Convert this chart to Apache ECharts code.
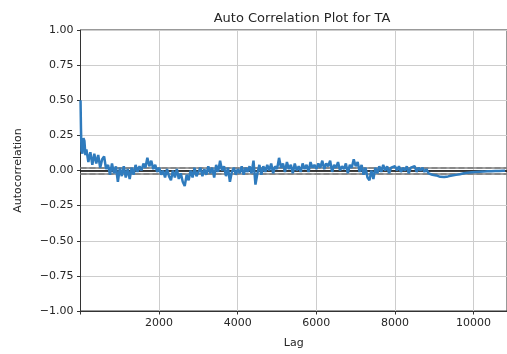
<!DOCTYPE html>
<html>
<head>
<meta charset="utf-8">
<script src="https://cdn.jsdelivr.net/npm/echarts@6/dist/echarts.min.js"></script>
<style>
  html, body { margin: 0; padding: 0; background: #fff; }
  #chart { width: 507px; height: 354px; }
</style>
</head>
<body>
<div id="chart"></div>
<script>
// Autocorrelation of the TA series.
// The first lags are listed individually, the rest every 50 lags from lag 251.
const earlyLags = [1, 12, 25, 50, 75, 100, 125, 150, 175, 200, 225];
const earlyAcf  = [0.50, 0.30, 0.14, 0.12, 0.23, 0.21, 0.11, 0.15, 0.14, 0.06, 0.10];

const firstLag = 251;
const lagStep = 50;
const acf = [
  0.13, 0.04, 0.12, 0.05, 0.11, 0.02, 0.08, 0.10, 0.01, 0.04, -0.03, 0.05, -0.02, 0.03, -0.08, 0.02,
  -0.04, 0.03, -0.05, 0.01, -0.06, 0.02, -0.03, 0.04, -0.01, 0.03, 0.00, 0.05, 0.02, 0.09, 0.03, 0.07, 0.01, 0.04, -0.01, 0.02,
  -0.03, 0.00, -0.05, 0.01, -0.04, -0.07, 0.00, -0.05, 0.01, -0.06, -0.02, -0.08, -0.11, -0.03, -0.07, 0.00, -0.05, 0.02, -0.04, -0.01,
  0.02, -0.04, 0.01, -0.03, 0.03, -0.02, 0.02, -0.05, 0.04, -0.01, 0.07, 0.00, 0.03, -0.04, 0.02, -0.08, -0.01, 0.02, -0.03, 0.01,
  -0.02, 0.03, -0.03, 0.02, -0.01, 0.03, -0.02, 0.07, -0.10, -0.02, 0.04, -0.03, 0.03, -0.01, 0.04, 0.00, 0.05, -0.02, 0.03, 0.01,
  0.09, 0.02, 0.05, -0.01, 0.06, 0.01, 0.04, -0.02, 0.05, 0.00, 0.03, -0.01, 0.05, 0.01, 0.04, -0.01, 0.06, 0.02, 0.04, 0.01,
  0.05, 0.02, 0.07, 0.01, 0.05, 0.03, 0.07, -0.01, 0.04, 0.02, 0.06, 0.00, 0.03, 0.01, 0.05, -0.02, 0.04, 0.02, 0.08, 0.03,
  0.06, -0.01, 0.04, -0.03, 0.02, -0.05, -0.07, 0.00, -0.06, 0.02, -0.02, 0.03, -0.01, 0.04, 0.00, 0.03, -0.02, 0.02, 0.01, 0.03,
  0.00, 0.03, -0.01, 0.02, 0.00, 0.03, -0.02, 0.02, 0.01, 0.03, -0.01, 0.02, 0.00, 0.02, -0.01, 0.01, -0.02, -0.01, -0.03, -0.03,
  -0.035, -0.04, -0.045, -0.048, -0.046, -0.044, -0.042, -0.038, -0.036, -0.033, -0.031, -0.028, -0.026, -0.023, -0.020, -0.018, -0.016, -0.014, -0.013, -0.012,
  -0.011, -0.010, -0.009, -0.008, -0.008, -0.007, -0.006, -0.006, -0.005, -0.005, -0.004, -0.004, -0.003, -0.003, -0.002, -0.002
];

// Confidence bands: 99% (dashed) and 95% (solid) around zero
const band99 = 0.0249;
const band95 = 0.0189;

const xTicks = [2000, 4000, 6000, 8000, 10000];
const xMax = 10850;

const points = earlyLags.map((lag, i) => [lag, earlyAcf[i]])
  .concat(acf.map((v, i) => [firstLag + i * lagStep, v]));

const chart = echarts.init(document.getElementById('chart'), null, { renderer: 'canvas' });
const font = 'DejaVu Sans';
const ink = '#262626';

chart.setOption({
  animation: false,
  backgroundColor: '#ffffff',
  title: {
    text: 'Auto Correlation Plot for TA',
    left: 297, top: 7, textAlign: 'center',
    textStyle: { fontFamily: font, fontSize: 13, fontWeight: 'normal', color: ink }
  },
  grid: {
    left: 80.5, top: 30, right: -6.5, bottom: 41,
    show: true, borderColor: '#333', borderWidth: 1, backgroundColor: 'transparent'
  },
  xAxis: {
    type: 'value', min: 0, max: xMax, interval: 2000,
    name: 'Lag', nameLocation: 'middle', nameGap: 27,
    nameTextStyle: { fontFamily: font, fontSize: 11, color: ink },
    axisLine: { show: true, onZero: false, lineStyle: { color: '#333', width: 1 } },
    axisTick: { show: true, length: 3.5, lineStyle: { color: '#333' } },
    axisLabel: {
      fontFamily: font, fontSize: 11, color: ink, margin: 7, showMaxLabel: false,
      formatter: v => (xTicks.indexOf(v) >= 0 ? String(v) : '')
    },
    splitLine: { show: true, lineStyle: { color: '#cdcdcd', width: 1 } }
  },
  yAxis: {
    type: 'value', min: -1, max: 1, interval: 0.25,
    name: 'Autocorrelation', nameLocation: 'middle', nameGap: 57, nameRotate: 90,
    nameTextStyle: { fontFamily: font, fontSize: 11, color: ink },
    axisLine: { show: true, onZero: false, lineStyle: { color: '#333', width: 1 } },
    axisTick: { show: true, length: 3.5, lineStyle: { color: '#333' } },
    axisLabel: {
      fontFamily: font, fontSize: 11, color: ink, margin: 7,
      formatter: v => v.toFixed(2).replace('-', '\u2212')
    },
    splitLine: { show: true, lineStyle: { color: '#cdcdcd', width: 1 } }
  },
  series: [
    {
      // reference lines drawn beneath the autocorrelation curve
      type: 'line', data: [], z: 1, silent: true,
      markLine: {
        silent: true, symbol: 'none', animation: false,
        label: { show: false },
        data: [
          { yAxis: band99, lineStyle: { color: '#808080', width: 1.5, type: [6, 3] } },
          { yAxis: band95, lineStyle: { color: '#808080', width: 1.5, type: 'solid' } },
          { yAxis: 0, lineStyle: { color: '#000000', width: 1.5, type: 'solid' } },
          { yAxis: -band95, lineStyle: { color: '#808080', width: 1.5, type: 'solid' } },
          { yAxis: -band99, lineStyle: { color: '#808080', width: 1.5, type: [6, 3] } }
        ]
      }
    },
    {
      type: 'line', data: points, z: 5,
      showSymbol: false, symbol: 'none', sampling: null,
      lineStyle: { color: '#2f7bbd', width: 2.5 },
      clip: true
    }
  ]
});
</script>
</body>
</html>
